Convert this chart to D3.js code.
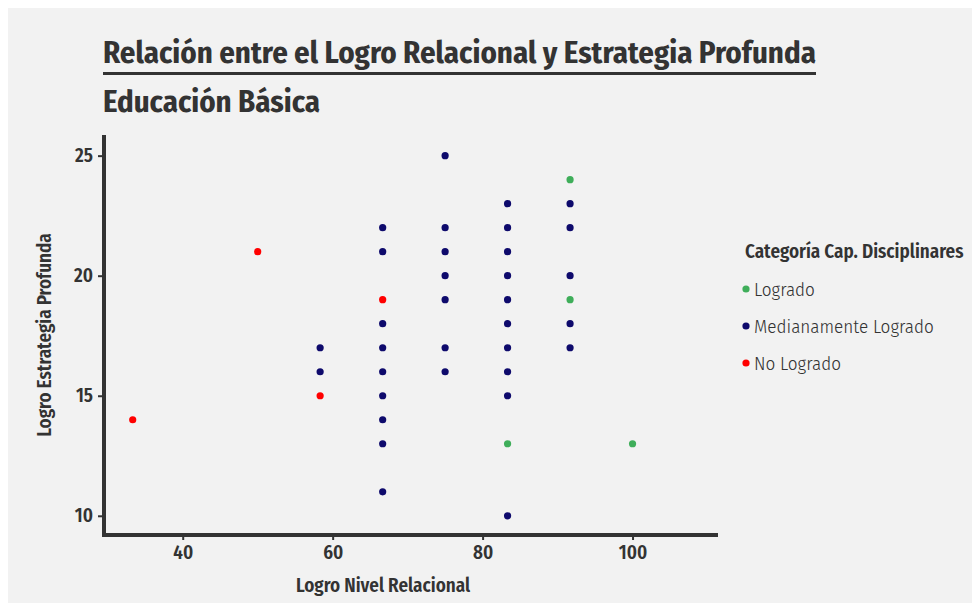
<!DOCTYPE html>
<html>
<head>
<meta charset="utf-8">
<script src="https://cdn.jsdelivr.net/npm/d3@7"></script>
<style>
  body { margin: 0; background: #ffffff; }
  svg { display: block; }
  text { font-family: "Fira Sans Condensed", "Liberation Sans Narrow", "DejaVu Sans Condensed", "Roboto", sans-serif; fill: #333333; }
</style>
</head>
<body>
<svg id="chart" width="980" height="611"></svg>
<script>
// ---- data ----
const categories = ["Logrado", "Medianamente Logrado", "No Logrado"];
const categoryColors = ["#3FAE5A", "#0E0A6C", "#FF0000"];
const logroRelacional = [
  33.33, 50, 58.33, 66.67,
  58.33, 58.33,
  66.67, 66.67, 66.67, 66.67, 66.67, 66.67, 66.67, 66.67, 66.67,
  75, 75, 75, 75, 75, 75, 75,
  83.33, 83.33, 83.33, 83.33, 83.33, 83.33, 83.33, 83.33, 83.33, 83.33,
  91.67, 91.67, 91.67, 91.67, 91.67,
  83.33, 91.67, 91.67, 100
];
const estrategiaProfunda = [
  14, 21, 15, 19,
  17, 16,
  22, 21, 18, 17, 16, 15, 14, 13, 11,
  25, 22, 21, 20, 19, 17, 16,
  23, 22, 21, 20, 19, 18, 17, 16, 15, 10,
  23, 22, 20, 18, 17,
  13, 24, 19, 13
];
const categoria = [
  "No Logrado", "No Logrado", "No Logrado", "No Logrado",
  "Medianamente Logrado", "Medianamente Logrado",
  "Medianamente Logrado", "Medianamente Logrado", "Medianamente Logrado", "Medianamente Logrado", "Medianamente Logrado", "Medianamente Logrado", "Medianamente Logrado", "Medianamente Logrado", "Medianamente Logrado",
  "Medianamente Logrado", "Medianamente Logrado", "Medianamente Logrado", "Medianamente Logrado", "Medianamente Logrado", "Medianamente Logrado", "Medianamente Logrado",
  "Medianamente Logrado", "Medianamente Logrado", "Medianamente Logrado", "Medianamente Logrado", "Medianamente Logrado", "Medianamente Logrado", "Medianamente Logrado", "Medianamente Logrado", "Medianamente Logrado", "Medianamente Logrado",
  "Medianamente Logrado", "Medianamente Logrado", "Medianamente Logrado", "Medianamente Logrado", "Medianamente Logrado",
  "Logrado", "Logrado", "Logrado", "Logrado"
];
const xTicks = [40, 60, 80, 100];
const yTicks = [10, 15, 20, 25];
const title = "Relación entre el Logro Relacional y Estrategia Profunda";
const subtitle = "Educación Básica";
const xLabel = "Logro Nivel Relacional";
const yLabel = "Logro Estrategia Profunda";
const legendTitle = "Categoría Cap. Disciplinares";

const points = logroRelacional.map((x, i) => ({ x, y: estrategiaProfunda[i], cat: categoria[i] }));

// ---- chart ----
const svg = d3.select("#chart");
svg.append("rect").attr("x", 8).attr("y", 8).attr("width", 964).attr("height", 595).attr("fill", "#F2F2F2");

const x = d3.scaleLinear().domain([29.5, 111.4]).range([104, 718]);
const y = d3.scaleLinear().domain([9.2, 25.86]).range([535, 135]);
const color = d3.scaleOrdinal().domain(categories).range(categoryColors);

// title + underline
svg.append("text").attr("x", 103).attr("y", 63)
  .attr("font-size", 30.7).attr("font-weight", "bold")
  .attr("textLength", 713).attr("lengthAdjust", "spacingAndGlyphs").text(title);
svg.append("line").attr("x1", 103).attr("x2", 816).attr("y1", 73.5).attr("y2", 73.5)
  .attr("stroke", "#333333").attr("stroke-width", 3);
svg.append("text").attr("x", 103).attr("y", 112)
  .attr("font-size", 30.7).attr("font-weight", "bold").text(subtitle);

// axes
const xAxis = svg.append("g").attr("transform", "translate(0,535)")
  .call(d3.axisBottom(x).tickValues(xTicks).tickSize(5).tickPadding(6));
const yAxis = svg.append("g").attr("transform", "translate(104,0)")
  .call(d3.axisLeft(y).tickValues(yTicks).tickSize(6).tickPadding(5));
[xAxis, yAxis].forEach(g => {
  g.attr("font-family", null).attr("font-size", null);
  g.select(".domain").remove();
  g.selectAll(".tick line").attr("stroke", "#333333").attr("stroke-width", 2);
  g.selectAll(".tick text").attr("font-size", 19).attr("font-weight", 600).attr("fill", "#333333");
});

svg.append("line").attr("x1", x.range()[0] - 2).attr("x2", x.range()[1]).attr("y1", 535).attr("y2", 535)
  .attr("stroke", "#333333").attr("stroke-width", 4);
svg.append("line").attr("x1", 104).attr("x2", 104).attr("y1", y.range()[1]).attr("y2", y.range()[0] + 2)
  .attr("stroke", "#333333").attr("stroke-width", 4);

// axis titles
svg.append("text").attr("x", 383).attr("y", 592)
  .attr("text-anchor", "middle").attr("font-size", 19).attr("font-weight", 600).text(xLabel);
svg.append("text").attr("transform", `translate(51,335) rotate(-90)`)
  .attr("text-anchor", "middle").attr("font-size", 19).attr("font-weight", 600).text(yLabel);

// points
svg.append("g").selectAll("circle").data(points).join("circle")
  .attr("cx", d => x(d.x)).attr("cy", d => y(d.y)).attr("r", 3.6)
  .attr("fill", d => color(d.cat));

// legend
const lg = svg.append("g");
lg.append("text").attr("x", 745).attr("y", 258).attr("font-size", 19).attr("font-weight", 600).text(legendTitle);
const items = lg.selectAll("g.item").data(categories).join("g").attr("class", "item")
  .attr("transform", (d, i) => `translate(746,${289 + i * 37})`);
items.append("circle").attr("r", 3.6).attr("fill", d => color(d));
items.append("text").attr("x", 8).attr("y", 6.5).attr("font-size", 19).attr("font-weight", 300).text(d => d);
</script>
</body>
</html>
